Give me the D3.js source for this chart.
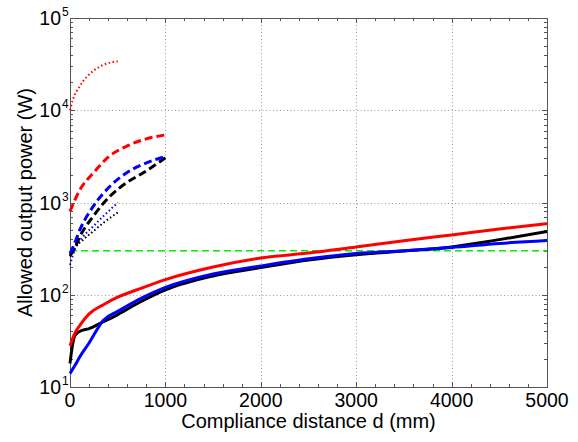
<!DOCTYPE html>
<html>
<head>
<meta charset="utf-8">
<script src="https://cdn.jsdelivr.net/npm/d3@7"></script>
<style>
  body { margin: 0; background: #fff; }
  text { font-family: "Liberation Sans", Arial, Helvetica, sans-serif; fill: #000; }
</style>
</head>
<body>
<div id="chart"></div>
<script>
// Data (distance in mm, power in W) ///////////////////////////////////////
const dSolid = [0, 25, 50, 100, 200, 350, 500, 750, 1000, 1500, 2000, 2500, 3000, 3500, 4000, 4500, 5000]
const redSolid = [28, 33, 38, 46, 62, 78, 94, 118, 146, 200, 250, 283, 330, 385, 445, 515, 590]
const blueSolid = [14, 15.5, 17, 21, 30, 53, 66, 92, 120, 168, 205, 245, 280, 300, 325, 360, 387]
const blackSolid = [18, 28, 36, 40, 43, 51, 61, 85, 113, 160, 197, 238, 272, 298, 330, 396, 484]

const dRedDash = [0, 100, 250, 400, 600, 800, 1000]
const redDash = [800, 1350, 2120, 3100, 4100, 4900, 5400]
const dBlueDash = [0, 35, 105, 244, 419, 594, 768, 1000]
const blueDash = [280, 335, 510, 910, 1500, 2100, 2600, 3150]
const dBlackDash = [0, 52, 105, 244, 419, 594, 768, 1000]
const blackDash = [265, 324, 430, 710, 1170, 1640, 2100, 3050]

const dRedDot = [0, 30, 105, 244, 349, 500]
const redDot = [10000, 13000, 18400, 26700, 31000, 34000]
const dBlueDot = [0, 50, 140, 244, 349, 500]
const blueDot = [210, 310, 430, 552, 710, 1000]
const dBlackDot = [0, 50, 140, 244, 349, 500]
const blackDot = [260, 320, 396, 488, 600, 780]

const dLimit = [0, 5000]
const limit = [300, 300]

const xTicks = [0, 1000, 2000, 3000, 4000, 5000]
const yExponents = [1, 2, 3, 4, 5]
/////////////////////////////////////////////////////////////////////////////

const width = 578
const height = 442
const margin = { top: 18, right: 31, bottom: 55, left: 70 }
const plotW = width - margin.left - margin.right
const plotH = height - margin.top - margin.bottom

const svg = d3.select('#chart')
  .append('svg')
  .attr('width', width)
  .attr('height', height)

const x = d3.scaleLinear().domain([0, 5000]).range([margin.left, margin.left + plotW])
const y = d3.scaleLog().domain([10, 1e5]).range([margin.top + plotH, margin.top])

const x0 = margin.left, x1 = margin.left + plotW
const y0 = margin.top + plotH, y1 = margin.top

// grid
const grid = svg.append('g')
  .attr('stroke', '#9a9a9a')
  .attr('stroke-width', 1)
  .attr('stroke-dasharray', '1,2.5')
grid.selectAll('.gx')
  .data(xTicks.slice(1, -1))
  .join('line')
  .attr('x1', d => Math.round(x(d)) + 0.5).attr('x2', d => Math.round(x(d)) + 0.5)
  .attr('y1', y1).attr('y2', y0)
grid.selectAll('.gy')
  .data(yExponents.slice(1, -1))
  .join('line')
  .attr('y1', d => Math.round(y(10 ** d)) + 0.5).attr('y2', d => Math.round(y(10 ** d)) + 0.5)
  .attr('x1', x0).attr('x2', x1)

// ticks (inward, all four sides)
const ticks = svg.append('g').attr('stroke', '#555').attr('stroke-width', 1)
const xMinor = d3.range(0, 5001, 200)
xMinor.forEach(d => {
  const len = d % 1000 === 0 ? 5 : 3
  const px = Math.round(x(d)) + 0.5
  ticks.append('line').attr('x1', px).attr('x2', px).attr('y1', y0).attr('y2', y0 - len)
  ticks.append('line').attr('x1', px).attr('x2', px).attr('y1', y1).attr('y2', y1 + len)
})
const yMinor = []
for (let e = 1; e <= 4; e++) for (let m = 1; m <= 9; m++) yMinor.push(m * 10 ** e)
yMinor.push(1e5)
yMinor.forEach(v => {
  const major = Math.abs(Math.log10(v) % 1) < 1e-9
  const len = major ? 5 : 3
  const py = Math.round(y(v)) + 0.5
  ticks.append('line').attr('x1', x0).attr('x2', x0 + len).attr('y1', py).attr('y2', py)
  ticks.append('line').attr('x1', x1).attr('x2', x1 - len).attr('y1', py).attr('y2', py)
})

// frame
svg.append('rect')
  .attr('x', x0 + 0.5).attr('y', y1 + 0.5)
  .attr('width', plotW).attr('height', plotH)
  .attr('fill', 'none').attr('stroke', '#555').attr('stroke-width', 1)

// curves
const lineGen = d3.line()
  .x(d => x(d[0]))
  .y(d => y(d[1]))
  .curve(d3.curveMonotoneX)

const series = [
  { d: dLimit, v: limit, color: '#00ee00', w: 1.5, dash: '7,4' },
  { d: dRedDot, v: redDot, color: '#ff0000', w: 2, dash: '1.5,2.5' },
  { d: dBlueDot, v: blueDot, color: '#0000ff', w: 2, dash: '1.5,2.5' },
  { d: dBlackDot, v: blackDot, color: '#000000', w: 2, dash: '1.5,2.5' },
  { d: dBlackDash, v: blackDash, color: '#000000', w: 3, dash: '8,4' },
  { d: dBlueDash, v: blueDash, color: '#0000ff', w: 3, dash: '8,4' },
  { d: dRedDash, v: redDash, color: '#ff0000', w: 3, dash: '8,4' },
  { d: dSolid, v: blackSolid, color: '#000000', w: 3, dash: null },
  { d: dSolid, v: blueSolid, color: '#0000ff', w: 3, dash: null },
  { d: dSolid, v: redSolid, color: '#ff0000', w: 3, dash: null }
]

svg.append('g')
  .selectAll('path')
  .data(series)
  .join('path')
  .attr('d', s => lineGen(s.d.map((d, i) => [d, s.v[i]])))
  .attr('fill', 'none')
  .attr('stroke', s => s.color)
  .attr('stroke-width', s => s.w)
  .attr('stroke-dasharray', s => s.dash)

// x tick labels
svg.append('g')
  .selectAll('text')
  .data(xTicks)
  .join('text')
  .attr('x', d => x(d))
  .attr('y', y0 + 20)
  .attr('text-anchor', 'middle')
  .style('font-size', '19.5px')
  .text(d => d)

// y tick labels 10^n
const yl = svg.append('g')
yExponents.forEach(e => {
  yl.append('text')
    .attr('x', x0 - 9)
    .attr('y', y(10 ** e) + 7)
    .attr('text-anchor', 'end')
    .style('font-size', '19.5px')
    .text('10')
  yl.append('text')
    .attr('x', x0 - 8)
    .attr('y', y(10 ** e) - 2)
    .style('font-size', '12px')
    .text(e)
})

// axis titles
svg.append('text')
  .attr('x', (x0 + x1) / 2)
  .attr('y', 428)
  .attr('text-anchor', 'middle')
  .style('font-size', '20px')
  .text('Compliance distance d (mm)')

svg.append('text')
  .attr('transform', `translate(32, ${(y0 + y1) / 2}) rotate(-90)`)
  .attr('text-anchor', 'middle')
  .style('font-size', '20px')
  .text('Allowed output power (W)')
</script>
</body>
</html>
